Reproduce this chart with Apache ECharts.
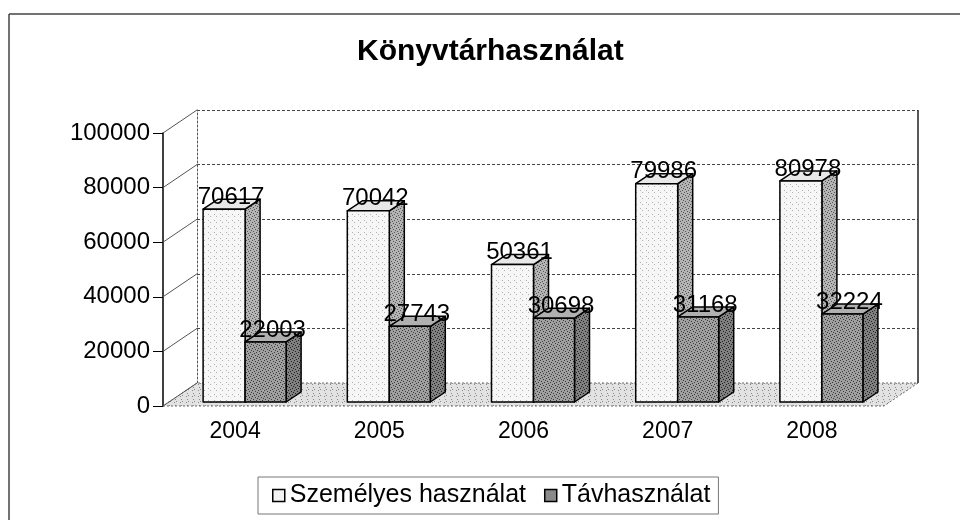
<!DOCTYPE html>
<html>
<head>
<meta charset="utf-8">
<script src="https://cdn.jsdelivr.net/npm/echarts@6/dist/echarts.min.js"></script>
<style>html,body{margin:0;background:#fff}#chart{width:960px;height:520px}</style>
</head>
<body>
<div id="chart"></div>
<script>
var years = ['2004', '2005', '2006', '2007', '2008'];
var personal = [70617, 70042, 50361, 79986, 80978];
var remote = [22003, 27743, 30698, 31168, 32224];
var yTicks = [0, 20000, 40000, 60000, 80000, 100000];

var chart = echarts.init(document.getElementById('chart'));
var font = 'Arial, "Liberation Sans", sans-serif';
var wall = [34, -23];     // offset of the back wall
var barDepth = [15, -10]; // depth of each bar
var barLift = -4;

// small stippled fill, like the scanned print
function stipple(base, dot, step) {
  var c = document.createElement('canvas');
  c.width = 6; c.height = 6;
  var ctx = c.getContext('2d');
  ctx.fillStyle = base;
  ctx.fillRect(0, 0, 6, 6);
  ctx.fillStyle = dot;
  var pts = [[0, 0], [3, 1], [1, 3], [4, 4], [2, 5], [5, 2]];
  for (var i = 0; i < pts.length; i += step) {
    ctx.fillRect(pts[i][0], pts[i][1], 1, 1);
  }
  return { image: c, repeat: 'repeat' };
}

function barItem(from, to, faces) {
  return function(params, api) {
    var cat = api.value(0), val = api.value(1);
    var c = api.coord([cat, val]);
    var b = api.coord([cat, 0]);
    var x0 = c[0] + from, x1 = c[0] + to;
    var yt = c[1] + barLift, yb = b[1] + barLift;
    var dx = barDepth[0], dy = barDepth[1];
    var line = { stroke: '#000', lineWidth: 1.5, lineJoin: 'round' };
    return {
      type: 'group',
      children: [
        { type: 'polygon', shape: { points: [[x1, yt], [x1 + dx, yt + dy], [x1 + dx, yb + dy], [x1, yb]] },
          style: Object.assign({ fill: faces[1] }, line) },
        { type: 'polygon', shape: { points: [[x0, yt], [x1, yt], [x1 + dx, yt + dy], [x0 + dx, yt + dy]] },
          style: Object.assign({ fill: faces[2] }, line) },
        { type: 'rect', shape: { x: x0, y: yt, width: x1 - x0, height: yb - yt },
          style: Object.assign({ fill: faces[0] }, line) },
        { type: 'text', z2: 10,
          style: { text: String(val), x: (x0 + x1) / 2 + 7, y: yt - 12, align: 'center',
                   verticalAlign: 'middle', font: '24px ' + font, fill: '#000' } }
      ]
    };
  };
}

function floorItem(params, api) {
  var r = params.coordSys;
  var yb = r.y + r.height;
  return {
    type: 'group',
    children: [
      { type: 'polygon', shape: { points: [[r.x, yb], [r.x + r.width, yb], [r.x + r.width + wall[0], yb + wall[1]], [r.x + wall[0], yb + wall[1]]] },
        style: { fill: stipple('#e2e2e2', '#8a8a8a', 2), stroke: '#666', lineWidth: 1, lineDash: [2, 2] } },
      { type: 'line', shape: { x1: r.x + r.width + wall[0], y1: r.y + wall[1], x2: r.x + r.width + wall[0], y2: yb + wall[1] },
        style: { stroke: '#222', lineWidth: 1.5 } }
    ]
  };
}

function connectorItem(params, api) {
  var r = params.coordSys;
  var p = api.coord([0, api.value(1)]);
  return {
    type: 'line',
    shape: { x1: r.x, y1: p[1], x2: r.x + wall[0], y2: p[1] + wall[1] },
    style: { stroke: '#555', lineWidth: 1 }
  };
}

chart.setOption({
  animation: false,
  backgroundColor: '#fff',
  title: {
    text: 'Könyvtárhasználat',
    left: 357, top: 37, padding: 0,
    textStyle: { fontFamily: font, fontSize: 30, fontWeight: 'bold', color: '#000' }
  },
  legend: {
    data: ['Személyes használat', 'Távhasználat'],
    left: 258, top: 477,
    padding: [6, 8, 6, 14],
    itemGap: 18, itemWidth: 12, itemHeight: 12,
    icon: 'rect',
    borderColor: '#777', borderWidth: 1,
    itemStyle: { borderColor: '#000', borderWidth: 1.5 },
    textStyle: { fontFamily: font, fontSize: 25, color: '#000' }
  },
  grid: [
    { left: 163, top: 133, width: 721, height: 273 },
    { left: 163 + wall[0], top: 133 + wall[1], width: 721, height: 273 }
  ],
  xAxis: [
    { type: 'category', data: years, gridIndex: 0,
      axisLine: { show: false }, axisTick: { show: false },
      axisLabel: { fontFamily: font, fontSize: 23, color: '#000', margin: 14 } },
    { type: 'category', data: years, gridIndex: 1, show: false }
  ],
  yAxis: [
    { type: 'value', gridIndex: 0, min: 0, max: 100000, interval: 20000,
      axisLine: { show: true, lineStyle: { color: '#000', width: 1.5 } },
      axisTick: { show: true, length: 10, lineStyle: { color: '#000' } },
      splitLine: { show: false },
      axisLabel: { fontFamily: font, fontSize: 24, color: '#000', margin: 13,
                   formatter: function(v) { return String(v); } } },
    { type: 'value', gridIndex: 1, min: 0, max: 100000, interval: 20000,
      axisLine: { show: true, lineStyle: { color: '#555', type: [2, 2] } },
      axisTick: { show: false }, axisLabel: { show: false },
      splitLine: { show: true, lineStyle: { color: '#444', type: [3, 2] } } }
  ],
  series: [
    { type: 'custom', name: 'floor', xAxisIndex: 0, yAxisIndex: 0, z: 1, silent: true,
      renderItem: floorItem, data: [[0, 0]] },
    { type: 'custom', name: 'connectors', xAxisIndex: 0, yAxisIndex: 0, z: 1, silent: true,
      renderItem: connectorItem, data: yTicks.map(function(t) { return [0, t]; }) },
    { type: 'custom', name: 'Személyes használat', xAxisIndex: 0, yAxisIndex: 0, z: 3,
      itemStyle: { color: '#f4f4f4' },
      renderItem: barItem(-32, 10, [stipple('#f6f6f6', '#b0b0b0', 3), stipple('#b4b4b4', '#555', 1), '#e8e8e8']),
      data: personal.map(function(v, i) { return [i, v]; }) },
    { type: 'custom', name: 'Távhasználat', xAxisIndex: 0, yAxisIndex: 0, z: 4,
      itemStyle: { color: '#8a8a8a' },
      renderItem: barItem(10, 51, [stipple('#a0a0a0', '#3a3a3a', 1), stipple('#808080', '#222', 1), '#b0b0b0']),
      data: remote.map(function(v, i) { return [i, v]; }) }
  ],
  graphic: [
    { type: 'line', shape: { x1: 9, y1: 14, x2: 960, y2: 14 }, style: { stroke: '#444', lineWidth: 1.5 } },
    { type: 'line', shape: { x1: 9, y1: 14, x2: 9, y2: 520 }, style: { stroke: '#444', lineWidth: 1.5 } }
  ]
});
</script>
</body>
</html>
